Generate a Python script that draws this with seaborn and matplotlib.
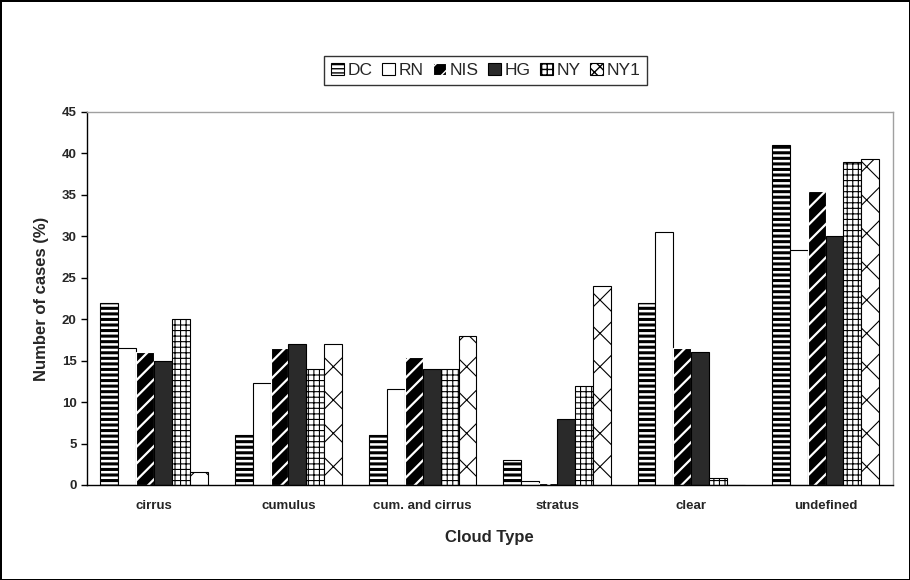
import numpy as np
import pandas as pd
import matplotlib
matplotlib.use("Agg")
import matplotlib.pyplot as plt
import seaborn as sns
from matplotlib.patches import Patch

# data
cloud_types = ["cirrus", "cumulus", "cum. and cirrus", "stratus", "clear", "undefined"]
stations = ["DC", "RN", "NIS", "HG", "NY", "NY1"]
dc = [22, 6, 6, 3, 22, 41]
rn = [16.5, 12.3, 11.6, 0.5, 30.5, 28.3]
nis = [16, 16.5, 15.5, 0.2, 16.5, 35.5]
hg = [15, 17, 14, 8, 16, 30]
ny = [20, 14, 14, 12, 0.9, 39]
ny1 = [1.6, 17, 18, 24, 0, 39.3]

values = {"DC": dc, "RN": rn, "NIS": nis, "HG": hg, "NY": ny, "NY1": ny1}
rows = []
for st in stations:
    for ct, v in zip(cloud_types, values[st]):
        rows.append({"Cloud Type": ct, "Station": st, "Value": v})
df = pd.DataFrame(rows)

sns.set_style("white")
plt.rcParams["font.family"] = ["Liberation Sans", "DejaVu Sans"]

# look of each station: face, hatch colour, hatch, hatch width, hatch in legend
styles = {
    "DC": ("white", "black", "---", 2.2, "----"),
    "RN": ("white", "black", "", 1.0, ""),
    "NIS": ("black", "white", "//", 1.6, "//"),
    "HG": ("#2a2a2a", "black", "", 1.0, ""),
    "NY": ("white", "black", "+++", 0.8, "+++"),
    "NY1": ("white", "black", "x", 0.8, "xxx"),
}

fig = plt.figure(figsize=(9.1, 5.8), dpi=100, edgecolor="black", linewidth=2)
ax = fig.add_axes([0.0956, 0.1638, 0.8854, 0.6431])

sns.barplot(data=df, x="Cloud Type", y="Value", hue="Station", order=cloud_types,
            hue_order=stations, width=0.8, ax=ax, legend=False, errorbar=None,
            palette=["white"] * 6, saturation=1)

for st, cont in zip(stations, ax.containers):
    face, ec, hatch, hlw, _ = styles[st]
    for p in cont:
        p.set_facecolor(face)
        p.set_edgecolor(ec)
        p.set_linewidth(0.8)
        p.set_hatch(hatch)
        if hasattr(p, "set_hatch_linewidth"):
            p.set_hatch_linewidth(hlw)

ax.set_xlim(-0.5, 5.5)
ax.set_ylim(0, 45)
ax.set_yticks(np.arange(0, 46, 5))
ax.set_xticks(np.arange(-0.5, 6, 1), minor=True)
ax.tick_params(axis="x", which="major", length=0, pad=11)
ax.tick_params(axis="x", which="minor", length=5, width=1, direction="out", color="black")
ax.tick_params(axis="y", length=4, width=1, direction="out", color="black", left=True)
for lab in ax.get_xticklabels() + ax.get_yticklabels():
    lab.set_fontweight("bold")
    lab.set_fontsize(9.5)

ax.set_xlabel("Cloud Type", fontsize=12, fontweight="bold", labelpad=13)
ax.set_ylabel("Number of cases (%)", fontsize=12, fontweight="bold", labelpad=9)

ax.spines["left"].set_color("black")
ax.spines["bottom"].set_color("black")
ax.spines["top"].set_color("#a0a0a0")
ax.spines["right"].set_color("#a0a0a0")
for s in ax.spines.values():
    s.set_linewidth(1)

handles = []
for st in stations:
    face, ec, hatch, hlw, lhatch = styles[st]
    handles.append(Patch(facecolor=face, edgecolor=ec if st == "NIS" else "black",
                         hatch=lhatch, linewidth=0.8))
leg = fig.legend(handles, stations, loc="center", bbox_to_anchor=(0.5335, 0.8785),
                 ncol=6, fontsize=12.5, frameon=True, fancybox=False,
                 handlelength=0.75, handleheight=0.75, handletextpad=0.2,
                 columnspacing=0.55, borderpad=0.4)
leg.get_frame().set_edgecolor("black")
leg.get_frame().set_linewidth(1)

fig.savefig("out.png", dpi=100)
